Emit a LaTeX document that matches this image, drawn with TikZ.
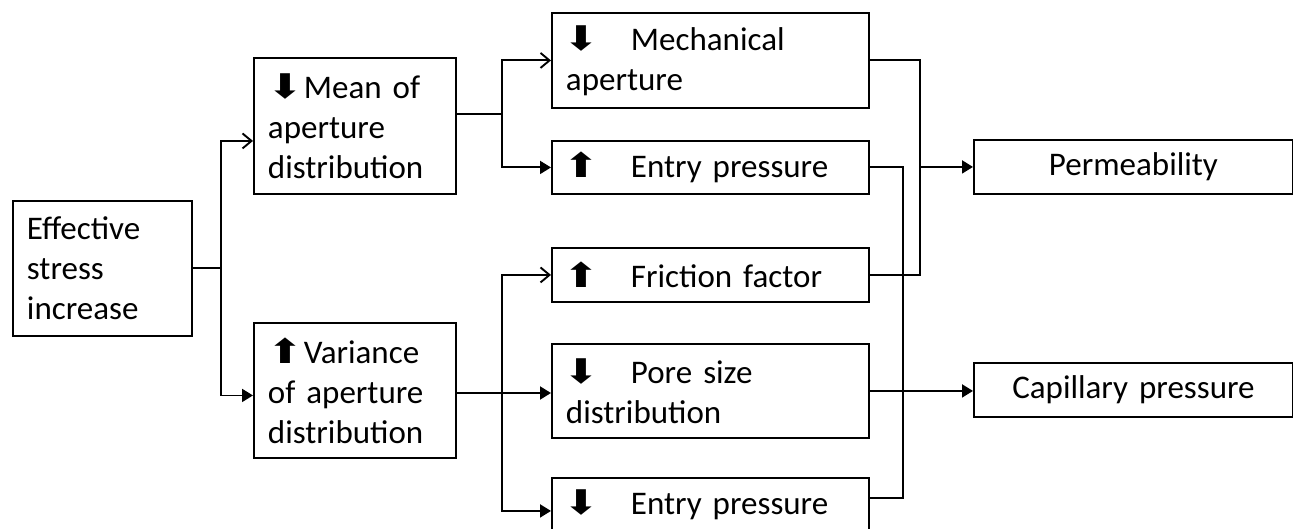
\documentclass[tikz,border=0pt]{standalone}
\usepackage{fontspec}
\setmainfont{Carlito}
\newfontfamily\arrfont{DejaVu Sans}
\usetikzlibrary{arrows.meta}
\newcommand{\myDown}{{\arrfont\scalebox{1.3}[1.03]{⬇}}}
\newcommand{\myUp}{{\arrfont\scalebox{1.3}[1.03]{⬆}}}
\begin{document}
\begin{tikzpicture}[x=1pt,y=-1pt,
  box/.style={draw, rectangle, anchor=north west, inner xsep=14pt, inner ysep=0pt,
    align=left, font=\fontsize{33}{40}\selectfont, line width=1.9pt},
  cbox/.style={box, align=center},
  conn/.style={line width=1.9pt},
  opentip/.style={conn, -{Straight Barb[length=9pt,width=15pt,line width=1.9pt]}},
  filltip/.style={conn, -{Triangle[length=11pt,width=13pt]}}]
\useasboundingbox[fill=white] (0,0) rectangle (1293,529);

% column 1
\node[box, text width=151pt, minimum height=135pt] (eff) at (12,200) {Effective\\stress\\increase};
% column 2
\node[box, text width=174pt, minimum height=136pt] (mean) at (253,57) {\myDown Mean of\\aperture\\distribution};
\node[box, text width=174pt, minimum height=135pt] (var) at (253,322) {\myUp Variance\\of aperture\\distribution};
% column 3
\node[box, text width=289pt, minimum height=95pt] (mech) at (551,12) {\makebox[65pt][l]{\hspace*{-2pt}\myDown}Mechanical\\aperture};
\node[box, text width=289pt, minimum height=53pt] (ent1) at (551,140) {\makebox[65pt][l]{\hspace*{-2pt}\myUp}Entry pressure};
\node[box, text width=289pt, minimum height=54pt] (fric) at (551,247) {\makebox[65pt][l]{\hspace*{-2pt}\myUp}Friction factor};
\node[box, text width=289pt, minimum height=94pt] (pore) at (551,343) {\makebox[65pt][l]{\hspace*{-2pt}\myDown}Pore size\\distribution};
\node[box, text width=289pt, minimum height=54pt] (ent2) at (551,477) {\makebox[65pt][l]{\hspace*{-2pt}\myDown}Entry pressure};
% column 4
\node[cbox, text width=291pt, minimum height=54pt] (perm) at (973,139) {Permeability};
\node[cbox, text width=291pt, minimum height=54pt] (cap) at (973,362) {Capillary pressure};

% junctions
\coordinate (j1) at (221,270);
\coordinate (j2) at (502,114);
\coordinate (j3) at (502,393);
\coordinate (j4) at (920,170);
\coordinate (j5) at (903,389);

% effective stress -> mean / variance
\draw[conn] (eff.east) -- (eff.east -| j1);
\draw[opentip] (j1) |- ([yshift=-15pt]mean.west);
\draw[filltip] (j1) |- ([yshift=-5pt]var.west);

% mean -> mechanical / entry pressure
\draw[conn] (mean.east |- j2) -- (j2);
\draw[opentip] (j2) |- (mech.west);
\draw[filltip] (j2) |- (ent1.west);

% variance -> friction / pore / entry pressure
\draw[filltip] (var.east |- j3) -- (pore.west |- j3);
\draw[opentip] (j3) |- (fric.west);
\draw[filltip] (j3) |- ([yshift=-6pt]ent2.west);

% to permeability
\draw[conn] (mech.east) -| (j4);
\draw[conn] (fric.east) -| (j4);
\draw[filltip] (j4 |- perm.west) -- (perm.west);

% to capillary pressure
\draw[conn] (ent1.east) -| (j5);
\draw[conn] ([yshift=7pt]ent2.east) -| (j5);
\draw[filltip] (pore.east) -- (pore.east -| cap.west);
\end{tikzpicture}
\end{document}
